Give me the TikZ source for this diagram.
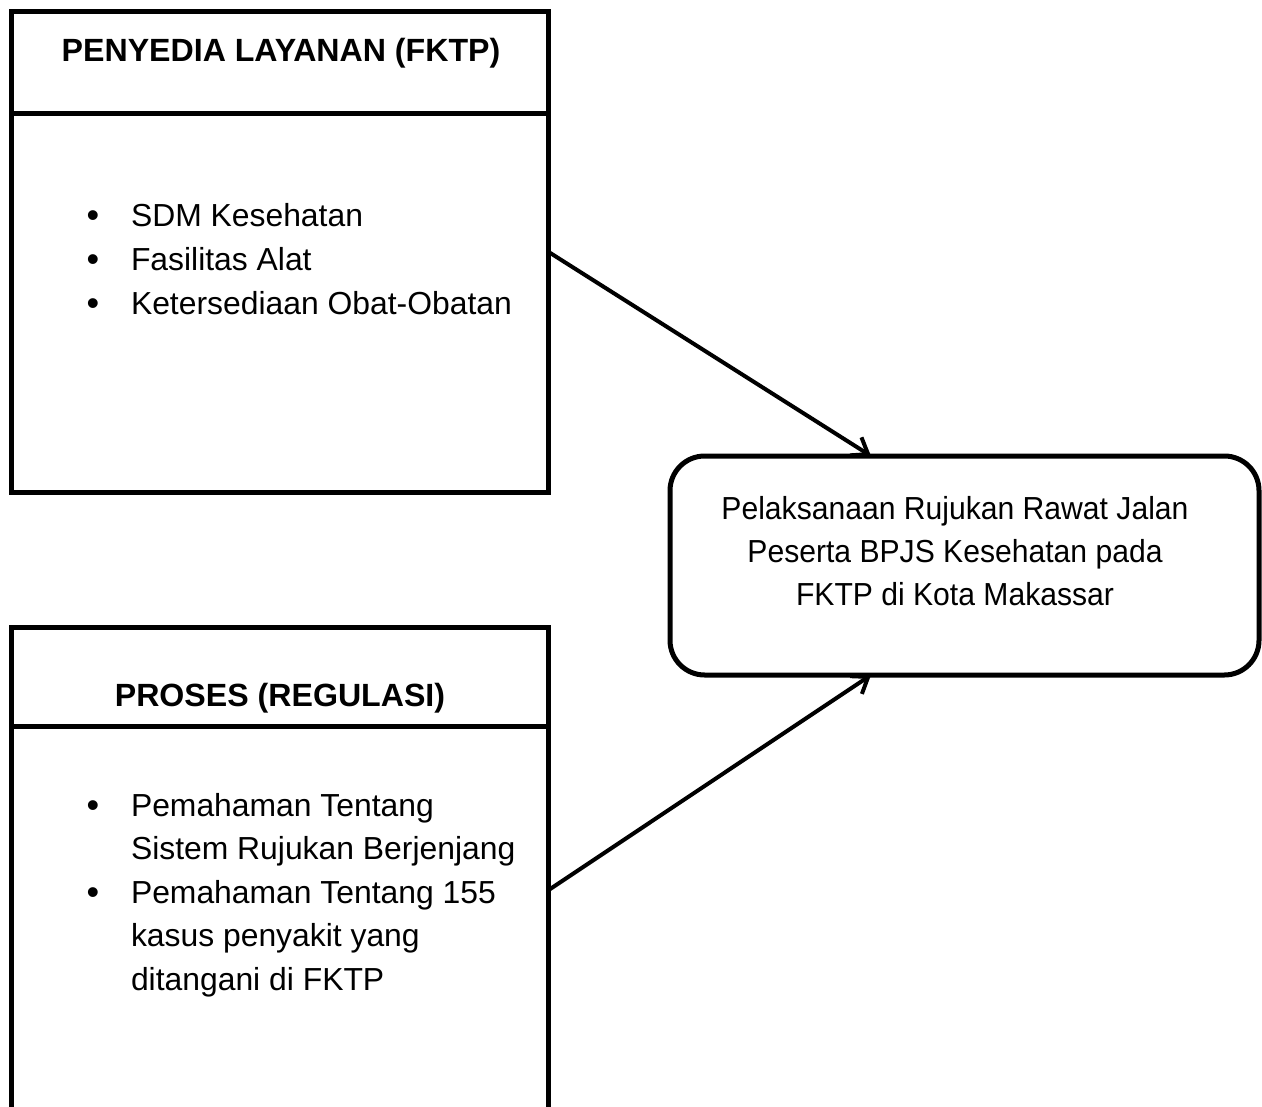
\documentclass[tikz,border=0pt]{standalone}
\usepackage{fontspec}
\setmainfont{Liberation Sans}
\newfontfamily\condfont[FakeStretch=0.945]{Liberation Sans}
\usetikzlibrary{arrows.meta}
\begin{document}
\begin{tikzpicture}[x=0.75pt,y=-0.75pt,
  frame/.style={draw, line width=3.75pt, inner sep=0pt, outer sep=0pt},
  txt/.style={inner sep=0pt, outer sep=0pt, font=\condfont\fontsize{23.9}{33}\selectfont},
  ltxt/.style={inner sep=0pt, outer sep=0pt, font=\fontsize{23.9}{33}\selectfont},
  dot/.style={inner sep=0pt, outer sep=0pt, font=\fontsize{27}{33}\selectfont},
  head/.style={inner sep=0pt, outer sep=0pt, font=\fontsize{24.1}{33}\selectfont\bfseries},
  arr/.style={line width=3pt, -{Straight Barb[length=11pt,width=16pt]}}]
\useasboundingbox (0,0) rectangle (1262,1106);
\clip (0,0) rectangle (1262,1106);
% box 1
\node[frame, minimum width=403pt, minimum height=75.75pt] (h1) at (280,62.5) {};
\node[frame, minimum width=403pt, minimum height=284.25pt] (b1) at (280,302.5) {};
\node[head, anchor=base] (h1t) at (281,61) {PENYEDIA LAYANAN (FKTP)};
\node[dot, anchor=base] (d11) at (93,227) {•};
\node[ltxt, anchor=base west] (t11) at (131,226) {SDM Kesehatan};
\node[dot, anchor=base] (d12) at (93,271) {•};
\node[ltxt, anchor=base west] (t12) at (131,270) {Fasilitas Alat};
\node[dot, anchor=base] (d13) at (93,315) {•};
\node[ltxt, anchor=base west] (t13) at (131,314) {Ketersediaan Obat-Obatan};
% box 2
\node[frame, minimum width=403pt, minimum height=74.25pt] (h2) at (280,676.5) {};
\node[frame, minimum width=403pt, minimum height=300pt] (b2) at (280,926) {};
\node[head, anchor=base] (h2t) at (280,706) {PROSES (REGULASI)};
\node[dot, anchor=base] (d21) at (93,817) {•};
\node[ltxt, anchor=base west] (t21) at (131,816) {Pemahaman Tentang};
\node[ltxt, anchor=base west] (t22) at (131,859.5) {Sistem Rujukan Berjenjang};
\node[dot, anchor=base] (d22) at (93,904) {•};
\node[ltxt, anchor=base west] (t23) at (131,903) {Pemahaman Tentang 155};
\node[ltxt, anchor=base west] (t24) at (131,946.5) {kasus penyakit yang};
\node[ltxt, anchor=base west] (t25) at (131,990) {ditangani di FKTP};
% result box
\node[frame, rounded corners=26pt, minimum width=441.75pt, minimum height=164.25pt] (r) at (964.5,565.5) {};
\node[txt, anchor=base] (r1) at (955,519) {Pelaksanaan Rujukan Rawat Jalan};
\node[txt, anchor=base] (r2) at (955,562) {Peserta BPJS Kesehatan pada};
\node[txt, anchor=base] (r3) at (955,605) {FKTP di Kota Makassar};
% arrows
\draw[arr] (b1.east |- 0,252) -- (r.north -| 871,0);
\draw[arr] (b2.east |- 0,890) -- (r.south -| 871,0);
\end{tikzpicture}
\end{document}
